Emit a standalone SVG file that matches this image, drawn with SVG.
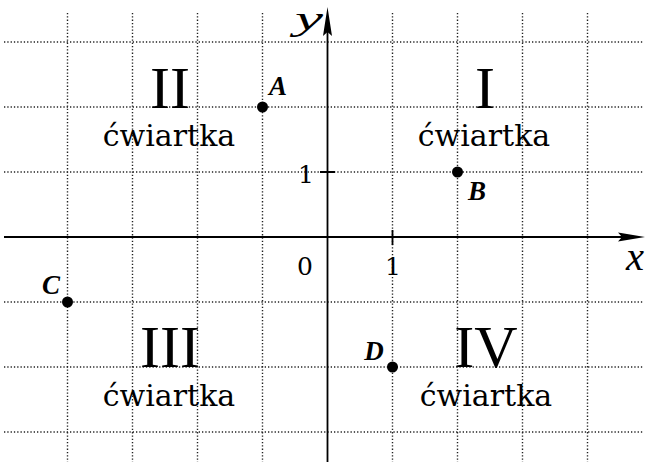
<svg xmlns="http://www.w3.org/2000/svg" width="647" height="462" viewBox="0 0 647 462">
<style>
.grid{stroke:#222;stroke-width:1.4;stroke-dasharray:1.3 2;fill:none}
.axis{stroke:#000;stroke-width:1.8;fill:none}
.num{font-family:"Liberation Serif",serif;font-size:60px;fill:#000;text-anchor:middle}
.cw{font-family:"DejaVu Serif",serif;font-size:30px;fill:#000;text-anchor:middle}
.dig{font-family:"DejaVu Serif",serif;font-size:25px;fill:#000;text-anchor:middle}
.pl{font-family:"Liberation Serif",serif;font-style:italic;font-weight:bold;font-size:27px;fill:#000;text-anchor:middle}
.al{font-family:"Liberation Serif",serif;font-style:italic;fill:#000}
.pt{fill:#000}
</style>
<rect width="647" height="462" fill="#fff"/>
<g id="grid" class="grid">
<path d="M67.5 13V462M132.5 13V462M197.5 13V462M262.5 13V462M392.5 13V462M457.5 13V462M522.5 13V462M587.5 13V462"/>
<path d="M4 42H643M4 107H643M4 172H643M4 302H643M4 367H643M4 432H643"/>
</g>
<g id="axes">
<path class="axis" d="M4 237H625M327.5 462V30"/>
<path class="axis" d="M320 172H335M392.5 230V245"/>
<polygon points="645,237 618,232.5 622,237 618,241.5" fill="#000"/>
<polygon points="327.5,7 323,36 327.5,32 332,36" fill="#000"/>
<text class="al" x="295" y="30" font-size="34" textLength="28" lengthAdjust="spacingAndGlyphs">y</text>
<text class="al" x="626" y="270" font-size="42" textLength="18" lengthAdjust="spacingAndGlyphs">x</text>
<text class="dig" x="305" y="275">0</text>
<text class="dig" x="393" y="275">1</text>
<text class="dig" x="306" y="183">1</text>
</g>
<g id="q1"><text class="num" x="485" y="108">I</text><text class="cw" x="484" y="146">ćwiartka</text></g>
<g id="q2"><text class="num" x="170" y="108">II</text><text class="cw" x="169" y="146">ćwiartka</text></g>
<g id="q3"><text class="num" x="170" y="367">III</text><text class="cw" x="169" y="406">ćwiartka</text></g>
<g id="q4"><text class="num" x="486" y="367">IV</text><text class="cw" x="486" y="406">ćwiartka</text></g>
<g id="A"><circle class="pt" cx="262.5" cy="107" r="5.5"/><text class="pl" x="278" y="95">A</text></g>
<g id="B"><circle class="pt" cx="457.5" cy="172" r="5.5"/><text class="pl" x="477" y="200">B</text></g>
<g id="C"><circle class="pt" cx="67.5" cy="302" r="5.5"/><text class="pl" x="51" y="294">C</text></g>
<g id="D"><circle class="pt" cx="392.5" cy="367" r="5.5"/><text class="pl" x="374" y="360">D</text></g>
</svg>
